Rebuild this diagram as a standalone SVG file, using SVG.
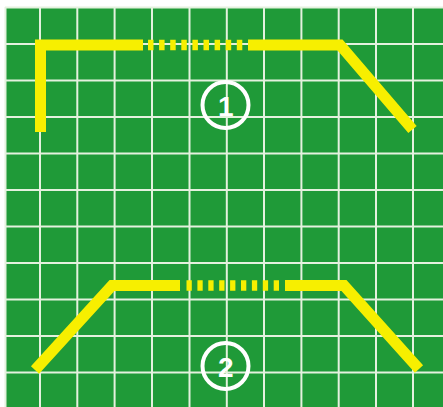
<svg xmlns="http://www.w3.org/2000/svg" width="443" height="407" viewBox="0 0 443 407">
<style>
.grid line{stroke:#e4f1de;stroke-width:2}
.track{fill:none;stroke:#f7ef00;stroke-width:11;stroke-linecap:butt;stroke-linejoin:miter}
.dash{fill:none;stroke:#f7ef00;stroke-width:10.5}
.badge circle{fill:none;stroke:#ffffff;stroke-width:4}
.badge text{fill:#ffffff;font-family:"Liberation Sans",Arial,sans-serif;font-weight:bold;font-size:28px;text-anchor:middle}
</style>
<rect x="0" y="0" width="443" height="407" fill="#ffffff"/>
<rect x="5" y="7" width="438" height="400" fill="#1f9a38"/>
<g class="grid">
<line x1="5" y1="7.5" x2="443" y2="7.5"/>
<line x1="5.5" y1="7" x2="5.5" y2="407"/>
<line x1="40" y1="7" x2="40" y2="407"/>
<line x1="77.3" y1="7" x2="77.3" y2="407"/>
<line x1="114.6" y1="7" x2="114.6" y2="407"/>
<line x1="152" y1="7" x2="152" y2="407"/>
<line x1="189.5" y1="7" x2="189.5" y2="407"/>
<line x1="226.8" y1="7" x2="226.8" y2="407"/>
<line x1="264" y1="7" x2="264" y2="407"/>
<line x1="301.4" y1="7" x2="301.4" y2="407"/>
<line x1="338.7" y1="7" x2="338.7" y2="407"/>
<line x1="376" y1="7" x2="376" y2="407"/>
<line x1="413" y1="7" x2="413" y2="407"/>
<line x1="5" y1="44" x2="443" y2="44"/>
<line x1="5" y1="80.5" x2="443" y2="80.5"/>
<line x1="5" y1="117" x2="443" y2="117"/>
<line x1="5" y1="153.5" x2="443" y2="153.5"/>
<line x1="5" y1="190" x2="443" y2="190"/>
<line x1="5" y1="226.5" x2="443" y2="226.5"/>
<line x1="5" y1="263" x2="443" y2="263"/>
<line x1="5" y1="299.5" x2="443" y2="299.5"/>
<line x1="5" y1="336" x2="443" y2="336"/>
<line x1="5" y1="372.5" x2="443" y2="372.5"/>
</g>
<g id="connectors">
<g id="track1">
<path class="track" d="M40.5,132 L40.5,45 L143,45"/>
<line class="dash" x1="148" y1="45" x2="243" y2="45" stroke-dasharray="5.5 5.6"/>
<path class="track" d="M248,45 L340,45 L412.5,129.5"/>
</g>
<g id="track2">
<path class="track" d="M35,370 L112,285.5 L180,285.5"/>
<line class="dash" x1="186.5" y1="285.5" x2="280" y2="285.5" stroke-dasharray="5.3 5.6"/>
<path class="track" d="M285,285.5 L344,285.5 L419,369"/>
</g>
</g>
<g id="badge1" class="badge">
<circle cx="225.5" cy="105" r="23"/>
<text x="225.8" y="115.5">1</text>
</g>
<g id="badge2" class="badge">
<circle cx="225.5" cy="366" r="23"/>
<text x="225.8" y="376.5">2</text>
</g>
</svg>
